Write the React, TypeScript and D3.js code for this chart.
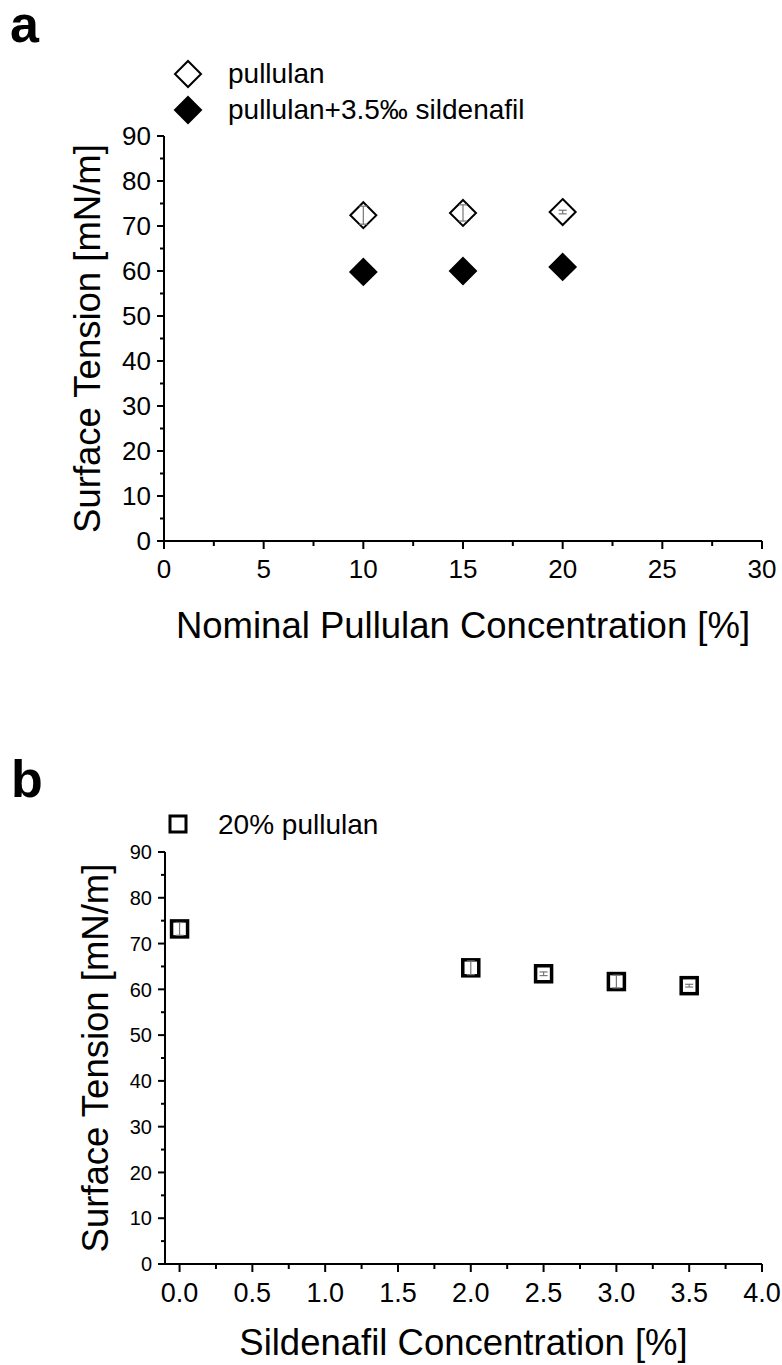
import React from "react";
import * as d3 from "d3";

// Panel a: surface tension vs. nominal pullulan concentration
const pullulanConc = [10, 15, 20];
const pullulanTension = [72.4, 72.9, 73.1];
const pullulanErr = [2.0, 1.8, 0.4];
const sildenafilTension = [59.8, 60.0, 60.9];
const sildenafilErr = [0.6, 0.6, 0.6];

// Panel b: surface tension of 20% pullulan vs. sildenafil concentration
const sildenafilConc = [0.0, 2.0, 2.5, 3.0, 3.5];
const blendTension = [73.2, 64.7, 63.4, 61.7, 60.8];
const blendErr = [1.4, 1.5, 0.4, 1.4, 0.3];

// Axis ticks
const xTicksA = [0, 5, 10, 15, 20, 25, 30];
const xMinorA = [2.5, 7.5, 12.5, 17.5, 22.5, 27.5];
const yTicks = [0, 10, 20, 30, 40, 50, 60, 70, 80, 90];
const yMinor = [5, 15, 25, 35, 45, 55, 65, 75, 85];
const xTicksB = [0, 0.5, 1.0, 1.5, 2.0, 2.5, 3.0, 3.5, 4.0];
const xMinorB = [0.25, 0.75, 1.25, 1.75, 2.25, 2.75, 3.25, 3.75];

const FONT = "'Liberation Sans', Arial, sans-serif";

const xA = d3.scaleLinear().domain([0, 30]).range([164, 762]);
const yA = d3.scaleLinear().domain([0, 90]).range([541, 136]);
const xB = d3.scaleLinear().domain([-0.1, 4]).range([165, 762]);
const yB = d3.scaleLinear().domain([0, 90]).range([1264, 852]);

const diamond = (cx: number, cy: number, r: number) =>
  `M${cx},${cy - r}L${cx + r},${cy}L${cx},${cy + r}L${cx - r},${cy}Z`;

function ErrorBar({ x, y0, y1 }: { x: number; y0: number; y1: number }) {
  const cap = 4;
  return (
    <g stroke="#777" strokeWidth={1.2}>
      <line x1={x} x2={x} y1={y0} y2={y1} />
      <line x1={x - cap} x2={x + cap} y1={y0} y2={y0} />
      <line x1={x - cap} x2={x + cap} y1={y1} y2={y1} />
    </g>
  );
}

function Axes({
  x,
  y,
  xTicks,
  xMinor,
  xFmt,
  xFont,
  yFont,
  xLabelY,
  xTitle,
  xTitleY,
  yTitleX,
}: any) {
  const [x0, x1] = x.range();
  const [y0, y1] = y.range();
  return (
    <g fontFamily={FONT} fill="#000">
      <line x1={x0} x2={x1} y1={y0} y2={y0} stroke="#000" strokeWidth={2} />
      <line x1={x0} x2={x0} y1={y0} y2={y1} stroke="#000" strokeWidth={2} />
      {xTicks.map((t: number) => (
        <g key={"xt" + t}>
          <line x1={x(t)} x2={x(t)} y1={y0} y2={y0 + 8} stroke="#000" strokeWidth={2} />
          <text x={x(t)} y={xLabelY} textAnchor="middle" fontSize={xFont}>
            {xFmt(t)}
          </text>
        </g>
      ))}
      {xMinor.map((t: number) => (
        <line key={"xm" + t} x1={x(t)} x2={x(t)} y1={y0} y2={y0 + 5} stroke="#000" strokeWidth={2} />
      ))}
      {yTicks.map((t: number) => (
        <g key={"yt" + t}>
          <line x1={x0 - 7} x2={x0} y1={y(t)} y2={y(t)} stroke="#000" strokeWidth={2} />
          <text
            x={x0 - 13}
            y={y(t)}
            dy="0.36em"
            textAnchor="end"
            fontSize={yFont}
          >
            {t}
          </text>
        </g>
      ))}
      {yMinor.map((t: number) => (
        <line key={"ym" + t} x1={x0 - 4} x2={x0} y1={y(t)} y2={y(t)} stroke="#000" strokeWidth={2} />
      ))}
      <text
        x={(x0 + x1) / 2}
        y={xTitleY}
        textAnchor="middle"
        fontSize={36.5}
      >
        {xTitle}
      </text>
      <text
        transform={`translate(${yTitleX},${(y0 + y1) / 2}) rotate(-90)`}
        textAnchor="middle"
        fontSize={36.5}
      >
        Surface Tension [mN/m]
      </text>
    </g>
  );
}

export default function App() {
  const r = 13;
  const s = 8;
  return (
    <svg
      width={782}
      height={1365}
      style={{ position: "absolute", left: 0, top: 0, background: "#fff" }}
    >
      <rect width={782} height={1365} fill="#fff" />

      {/* Panel a */}
      <text x={10} y={42} fontFamily={FONT} fontWeight="bold" fontSize={52}>
        a
      </text>
      <path d={diamond(188, 74, 13)} fill="#fff" stroke="#000" strokeWidth={2} />
      <text x={228} y={83} fontFamily={FONT} fontSize={28}>
        pullulan
      </text>
      <path d={diamond(188, 110, 13)} fill="#000" stroke="#000" strokeWidth={2} />
      <text x={228} y={119} fontFamily={FONT} fontSize={28}>
        pullulan+3.5‰ sildenafil
      </text>

      <Axes
        x={xA}
        y={yA}
        xTicks={xTicksA}
        xMinor={xMinorA}
        xFmt={(t: number) => String(t)}
        xFont={26}
        yFont={26}
        xLabelY={578}
        xTitle="Nominal Pullulan Concentration [%]"
        xTitleY={638}
        yTitleX={100}
      />

      {pullulanConc.map((c, i) => (
        <g key={"open" + c}>
          <path d={diamond(xA(c), yA(pullulanTension[i]), r)} fill="#fff" stroke="#000" strokeWidth={2} />
          <ErrorBar
            x={xA(c)}
            y0={yA(pullulanTension[i] - pullulanErr[i])}
            y1={yA(pullulanTension[i] + pullulanErr[i])}
          />
        </g>
      ))}
      {pullulanConc.map((c, i) => (
        <g key={"fill" + c}>
          <ErrorBar
            x={xA(c)}
            y0={yA(sildenafilTension[i] - sildenafilErr[i])}
            y1={yA(sildenafilTension[i] + sildenafilErr[i])}
          />
          <path d={diamond(xA(c), yA(sildenafilTension[i]), r)} fill="#000" stroke="#000" strokeWidth={2} />
        </g>
      ))}

      {/* Panel b */}
      <text x={11} y={797} fontFamily={FONT} fontWeight="bold" fontSize={52}>
        b
      </text>
      <rect x={170} y={816} width={16} height={16} fill="#fff" stroke="#000" strokeWidth={3} />
      <text x={218} y={834} fontFamily={FONT} fontSize={28}>
        20% pullulan
      </text>

      <Axes
        x={xB}
        y={yB}
        xTicks={xTicksB}
        xMinor={xMinorB}
        xFmt={(t: number) => t.toFixed(1)}
        xFont={27}
        yFont={20}
        xLabelY={1302}
        xTitle="Sildenafil Concentration [%]"
        xTitleY={1355}
        yTitleX={108}
      />

      {sildenafilConc.map((c, i) => (
        <g key={"sq" + c}>
          <rect
            x={xB(c) - s}
            y={yB(blendTension[i]) - s}
            width={2 * s}
            height={2 * s}
            fill="#fff"
            stroke="#000"
            strokeWidth={3.5}
          />
          <ErrorBar
            x={xB(c)}
            y0={yB(blendTension[i] - blendErr[i])}
            y1={yB(blendTension[i] + blendErr[i])}
          />
        </g>
      ))}
    </svg>
  );
}
